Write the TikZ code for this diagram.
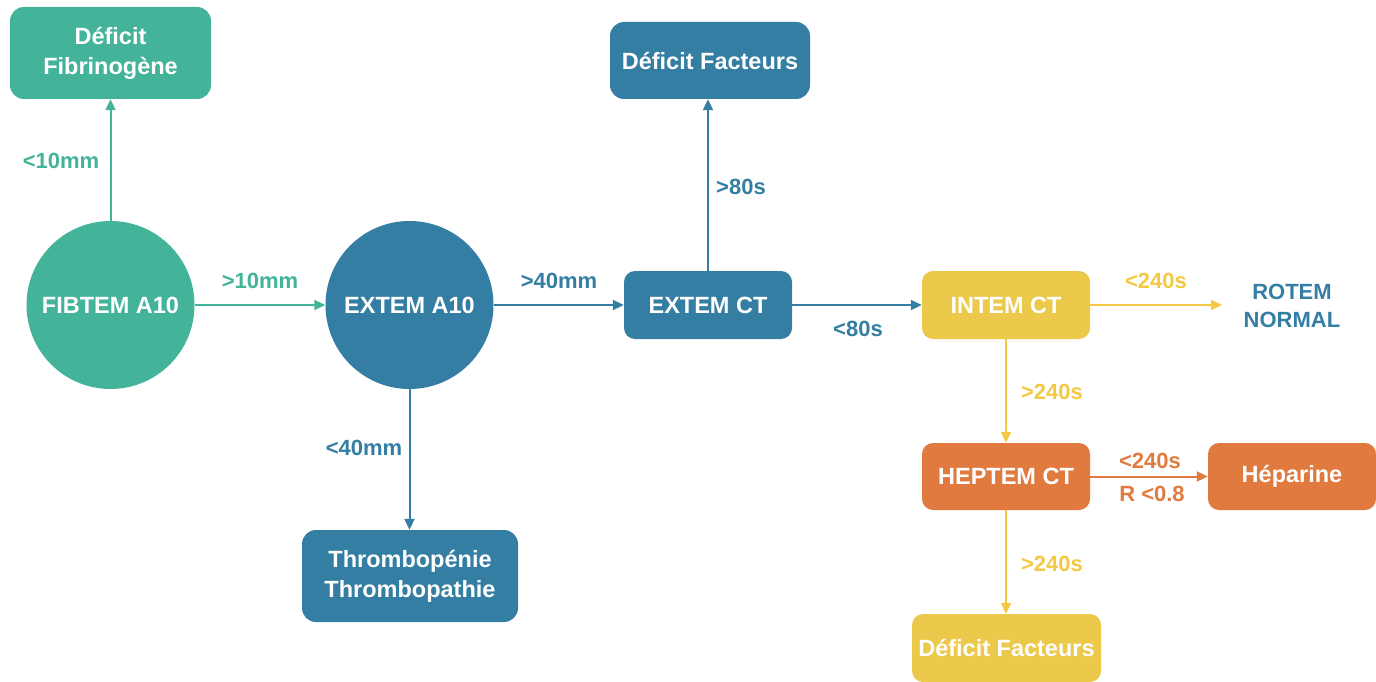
\documentclass[tikz,border=0pt]{standalone}
\usepackage{fontspec}
\setmainfont{Liberation Sans}
\usetikzlibrary{arrows.meta}
\definecolor{cgreen}{HTML}{43B39A}
\definecolor{cblue}{HTML}{347EA3}
\definecolor{cyellow}{HTML}{ECC94B}
\definecolor{cyarrow}{HTML}{F5C843}
\definecolor{corange}{HTML}{E07A3E}
\begin{document}
\begin{tikzpicture}[x=1pt,y=-1pt,
  txt/.style={font=\fontsize{23.5}{30}\selectfont\bfseries, text=white, align=center},
  lbl/.style={font=\fontsize{22}{27}\selectfont\bfseries, align=center},
  boxnode/.style={txt, rounded corners=14pt, inner sep=0pt},
  circnode/.style={txt, circle, inner sep=0pt, minimum size=168pt},
  conn/.style={line width=2pt, -{Triangle[length=11pt,width=10pt]}},
]
\useasboundingbox (0,0) rectangle (1376,682);
% nodes
\node[boxnode, fill=cgreen, minimum width=201pt, minimum height=92pt] (fib) at (110.5,53) {Déficit\\Fibrinogène};
\node[circnode, fill=cgreen] (fibtem) at (110.5,305) {FIBTEM A10};
\node[circnode, fill=cblue] (extema) at (409.5,305) {EXTEM A10};
\node[boxnode, fill=cblue, minimum width=216pt, minimum height=92pt] (thr) at (410,576) {Thrombopénie\\Thrombopathie};
\node[boxnode, fill=cblue, minimum width=168pt, minimum height=68pt, rounded corners=11pt] (extemct) at (708,305) {EXTEM CT};
\node[boxnode, fill=cblue, minimum width=200pt, minimum height=77pt] (defb) at (710,60.5) {Déficit Facteurs};
\node[boxnode, fill=cyellow, minimum width=168pt, minimum height=68pt, rounded corners=11pt] (intem) at (1006,305) {INTEM CT};
\node[lbl, text=cblue, font=\fontsize{22}{28}\selectfont\bfseries] (rotem) at (1292,306) {ROTEM\\NORMAL};
\node[boxnode, fill=corange, minimum width=168pt, minimum height=67pt, rounded corners=11pt] (heptem) at (1006,476.5) {HEPTEM CT};
\node[boxnode, fill=corange, minimum width=168pt, minimum height=67pt, rounded corners=11pt] (hep) at (1292,476.5) {Héparine};
\node[boxnode, fill=cyellow, minimum width=189pt, minimum height=68pt, rounded corners=11pt] (defy) at (1006.5,648) {Déficit Facteurs};
\coordinate (rotemin) at (1222,305);
% connectors
\draw[conn, cgreen] (fibtem.north) -- (fib.south);
\draw[conn, cgreen] (fibtem.east) -- (extema.west);
\draw[conn, cblue] (extema.south) -- (extema.south |- thr.north);
\draw[conn, cblue] (extema.east) -- (extemct.west);
\draw[conn, cblue] (extemct.north) -- (extemct.north |- defb.south);
\draw[conn, cblue] (extemct.east) -- (intem.west);
\draw[conn, cyarrow] (intem.east) -- (rotemin);
\draw[conn, cyarrow] (intem.south) -- (heptem.north);
\draw[conn, corange] (heptem.east) -- (hep.west);
\draw[conn, cyarrow] (heptem.south) -- (heptem.south |- defy.north);
% labels
\node[lbl, text=cgreen] (l1) at (61,161) {<10mm};
\node[lbl, text=cgreen] (l2) at (260,281) {>10mm};
\node[lbl, text=cblue] (l3) at (364,448) {<40mm};
\node[lbl, text=cblue] (l4) at (559,281) {>40mm};
\node[lbl, text=cblue] (l5) at (741,187) {>80s};
\node[lbl, text=cblue] (l6) at (858,329) {<80s};
\node[lbl, text=cyarrow] (l7) at (1156,281) {<240s};
\node[lbl, text=cyarrow] (l8) at (1052,392) {>240s};
\node[lbl, text=corange] (l9) at (1150,461) {<240s};
\node[lbl, text=corange] (l10) at (1152,494) {R <0.8};
\node[lbl, text=cyarrow] (l11) at (1052,564) {>240s};
\end{tikzpicture}
\end{document}
